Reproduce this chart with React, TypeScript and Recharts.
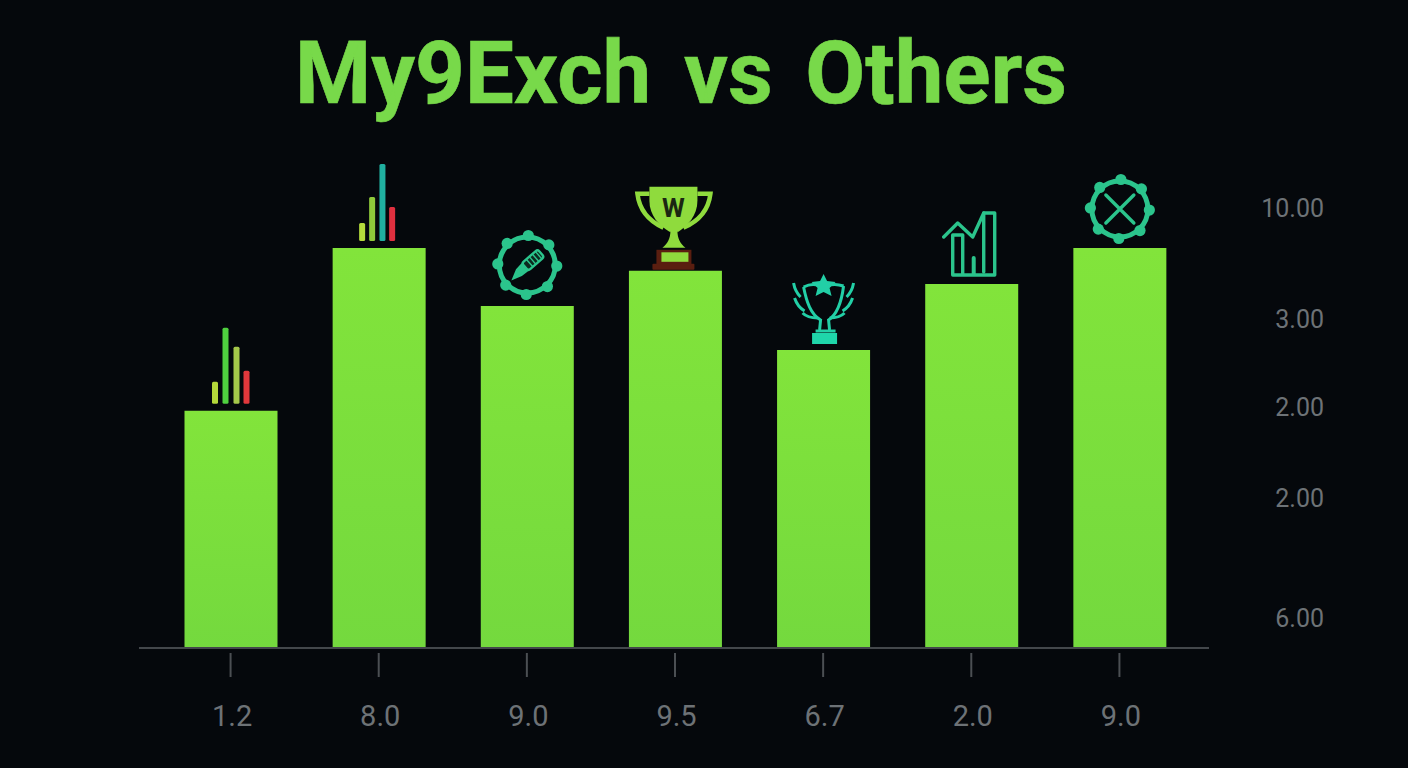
import React from "react";
import { BarChart, Bar, XAxis, YAxis } from "recharts";

const xLabels = ["1.2", "8.0", "9.0", "9.5", "6.7", "2.0", "9.0"];
const barValues = [5.93, 10, 8.55, 9.43, 7.45, 9.1, 10];
const yTickValues = [0.75, 3.75, 6.03, 8.23, 11];
const yTickLabels = ["6.00", "2.00", "2.00", "3.00", "10.00"];

const chartData = xLabels.map((label, i) => ({ label, value: barValues[i] }));

const TEAL = "#2bc48c";
const LIME = "#8fdb3d";
const TICK_GREY = "#6d7276";

function MiniBars({ bars }: { bars: { dx: number; h: number; fill: string }[] }) {
  return (
    <g>
      {bars.map((b) => (
        <rect key={b.dx} x={b.dx} y={-7 - b.h} width={6} height={b.h} rx={1.5} fill={b.fill} />
      ))}
    </g>
  );
}

function Ring({ cy, children }: { cy: number; children: React.ReactNode }) {
  const dots = [0, 45, 90, 135, 180, 225, 270, 315];
  return (
    <g transform={`translate(0 ${cy})`}>
      <circle r={28} fill="none" stroke={TEAL} strokeWidth={5} />
      {dots.map((a) => (
        <circle
          key={a}
          cx={29.5 * Math.cos(((a + 2) * Math.PI) / 180)}
          cy={29.5 * Math.sin(((a + 2) * Math.PI) / 180)}
          r={5.6}
          fill={TEAL}
        />
      ))}
      {children}
    </g>
  );
}

// one small drawing on top of each bar, origin is bar centre / bar top
function BarIcon({ index }: { index: number }) {
  switch (index) {
    case 0:
      return (
        <MiniBars
          bars={[
            { dx: -19, h: 22, fill: "#b4d83a" },
            { dx: -8.5, h: 76, fill: "#4fd03f" },
            { dx: 2.5, h: 57, fill: "#a5c84a" },
            { dx: 12.5, h: 33, fill: "#e2383c" },
          ]}
        />
      );
    case 1:
      return (
        <MiniBars
          bars={[
            { dx: -20, h: 18, fill: "#b5dc3c" },
            { dx: -10, h: 44, fill: "#8fc93a" },
            { dx: 0.3, h: 77, fill: "#20b0a0" },
            { dx: 10, h: 34, fill: "#e0303f" },
          ]}
        />
      );
    case 2:
      return (
        <Ring cy={-41}>
          <g transform="rotate(-41)" fill="none" stroke={TEAL} strokeWidth={2.4}>
            <rect x={-3} y={-5} width={21} height={10} rx={2.5} fill="#0c2a1f" />
            <path d="M-3 -4 L-11 -3 L-19 1 L-11 3.5 L-3 4" fill={TEAL} />
            <path d="M3 -5 V5 M7 -5 V5 M11 -5 V5 M15 -5 V5" strokeWidth={1.4} />
          </g>
        </Ring>
      );
    case 3:
      return (
        <g>
          <g fill="none" stroke={LIME} strokeWidth={4.5}>
            <path d="M-26 -77 H-38 C-36 -60 -25 -49 -12 -43" />
            <path d="M22 -77 H35 C33 -60 22 -49 8 -43" />
          </g>
          <path
            d="M-26 -84 H22 V-70 C22 -55 12 -45 3 -39 H-6 C-16 -45 -26 -55 -26 -70 Z"
            fill={LIME}
          />
          <path d="M-5 -40 H2 C2 -32 5 -27 10 -23 H-13 C-8 -27 -5 -32 -5 -40 Z" fill={LIME} />
          <rect x={-19} y={-21} width={35} height={15} fill="#5a1e10" />
          <rect x={-23} y={-7} width={42} height={6} rx={1} fill="#5a1e10" />
          <rect x={-14} y={-18.5} width={27} height={9.5} fill={LIME} />
          <text
            x={-2}
            y={-54}
            textAnchor="middle"
            fontFamily="Roboto"
            fontWeight={700}
            fontSize={26}
            fill="#1b2612"
          >
            W
          </text>
        </g>
      );
    case 4:
      return (
        <g>
          <polygon
            points="0,-76 3.5,-69 12,-68 6,-62 8,-54 0,-58 -8,-54 -6,-62 -12,-68 -3.5,-69"
            fill="#22cfa6"
          />
          <g fill="none" stroke="#22cfa6" strokeWidth={3}>
            <path d="M-20 -63 C-14 -66 -8 -66 -4 -64 M20 -64 C14 -66 8 -66 4 -64" />
            <path d="M-20 -63 C-17 -48 -13 -36 -3 -30 L-4 -20 M20 -64 C18 -48 14 -36 5 -30 L6 -20" />
            <path d="M-8 -19 H12" />
            <path d="M-30 -67 C-29 -61 -27 -57 -23 -53 M-29 -52 C-27 -46 -24 -42 -19 -39 M-21 -37 C-17 -33 -12 -32 -6 -32" />
            <path d="M30 -67 C29 -61 27 -57 23 -53 M29 -52 C27 -46 24 -42 19 -39 M21 -37 C17 -33 12 -32 6 -32" />
          </g>
          <rect x={-11.5} y={-17} width={25} height={11} fill="#1fd6aa" />
        </g>
      );
    case 5:
      return (
        <g fill="none" stroke={TEAL} strokeWidth={3.4} strokeLinejoin="round" strokeLinecap="round">
          <path d="M-28 -47 L-14 -61 L1 -47 L12 -71 H23 V-9 H-19 V-49 H-9 V-10" />
          <path d="M12 -71 V-12" />
          <path d="M2 -26 V-10" strokeWidth={4} />
        </g>
      );
    case 6:
      return (
        <Ring cy={-39}>
          <path d="M-14 -14 L14 14 M14 -14 L-14 14" stroke={TEAL} strokeWidth={3.4} strokeLinecap="round" />
        </Ring>
      );
    default:
      return null;
  }
}

function renderIcon(props: any) {
  const { x, y, width, index } = props;
  return (
    <g key={index} transform={`translate(${x + width / 2} ${y})`}>
      <BarIcon index={index} />
    </g>
  );
}

function XTick(props: any) {
  const { x, y, payload } = props;
  return (
    <g>
      <line x1={x} x2={x} y1={y - 3} y2={y + 21} stroke="#4b4f53" strokeWidth={2} />
      <text
        x={x + 1.5}
        y={y + 70}
        textAnchor="middle"
        fontFamily="Roboto"
        fontSize={29}
        fill={TICK_GREY}
      >
        {payload.value}
      </text>
    </g>
  );
}

function YTick(props: any) {
  const { x, y, payload, index } = props;
  return (
    <text
      x={x + 107}
      y={y + 9}
      textAnchor="end"
      fontFamily="Roboto"
      fontSize={25}
      fill={TICK_GREY}
    >
      {yTickLabels[index ?? yTickValues.indexOf(payload.value)]}
    </text>
  );
}

export default function App() {
  return (
    <div
      style={{
        position: "absolute",
        left: 0,
        top: 0,
        width: 1408,
        height: 768,
        background: "#05080c",
        overflow: "hidden",
      }}
    >
      <div
        style={{
          position: "absolute",
          left: 0,
          width: 1362,
          top: 23,
          textAlign: "center",
          fontFamily: "Roboto",
          fontWeight: 700,
          fontSize: 87,
          lineHeight: "100px",
          color: "#78d94a",
          wordSpacing: 11,
          WebkitTextStroke: "0.6px #78d94a",
        }}
      >
        My9Exch vs Others
      </div>
      <BarChart
        width={1408}
        height={768}
        data={chartData}
        margin={{ top: 148, right: 0, bottom: 0, left: 139 }}
      >
        <defs>
          <linearGradient id="barFill" x1="0" y1="0" x2="0" y2="1">
            <stop offset="0%" stopColor="#82e43b" />
            <stop offset="100%" stopColor="#74d93e" />
          </linearGradient>
        </defs>
        <XAxis
          dataKey="label"
          height={120}
          padding={{ left: 17.5, right: 15.5 }}
          axisLine={{ stroke: "#43474b", strokeWidth: 2 }}
          tickLine={false}
          tick={<XTick />}
          interval={0}
        />
        <YAxis
          orientation="right"
          width={199}
          domain={[0, 12.5]}
          ticks={yTickValues}
          axisLine={false}
          tickLine={false}
          tick={<YTick />}
          interval={0}
        />
        <Bar
          dataKey="value"
          barSize={93}
          fill="url(#barFill)"
          label={renderIcon}
          isAnimationActive={false}
        />
      </BarChart>
    </div>
  );
}
